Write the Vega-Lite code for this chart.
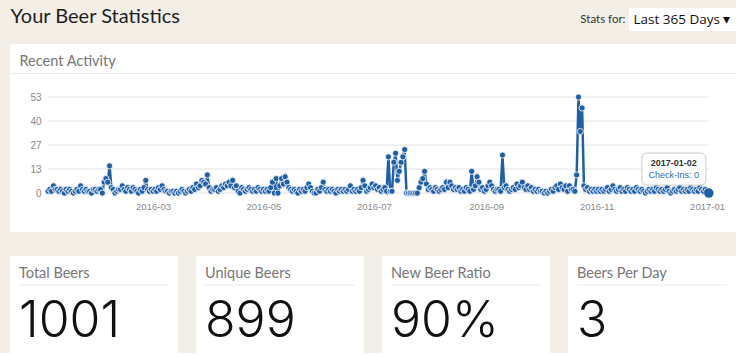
{
  "$schema": "https://vega.github.io/schema/vega-lite/v6.json",
  "background": "#f3efe6",
  "padding": {"left": 10, "top": 6, "right": 0, "bottom": 0},
  "config": {"view": {"stroke": null}, "font": "Lato"},
  "datasets": {
    "header": [{"prefix": "Stats for:", "label": "Last 365 Days  ▾"}],
    "cards": [
      {"stat": "Total Beers", "value": "1001"},
      {"stat": "Unique Beers", "value": "899"},
      {"stat": "New Beer Ratio", "value": "90%"},
      {"stat": "Beers Per Day", "value": "3"}
    ],
    "grid": [
      {"g": 0, "from": "2016-01-03", "to": "2017-01-02"},
      {"g": 13.25, "from": "2016-01-03", "to": "2017-01-02"},
      {"g": 26.5, "from": "2016-01-03", "to": "2017-01-02"},
      {"g": 39.75, "from": "2016-01-03", "to": "2017-01-02"},
      {"g": 53, "from": "2016-01-03", "to": "2017-01-02"}
    ],
    "hover": [{"d": "2017-01-02", "n": 0, "label": "Check-Ins: 0"}],
    "checkins": [
      {"d":"2016-01-03","n":1},{"d":"2016-01-04","n":2},{"d":"2016-01-05","n":1},{"d":"2016-01-06","n":4},{"d":"2016-01-07","n":2},{"d":"2016-01-08","n":2},{"d":"2016-01-09","n":1},{"d":"2016-01-10","n":2},{"d":"2016-01-11","n":1},{"d":"2016-01-12","n":0},{"d":"2016-01-13","n":2},{"d":"2016-01-14","n":1},{"d":"2016-01-15","n":2},{"d":"2016-01-16","n":1},{"d":"2016-01-17","n":0},{"d":"2016-01-18","n":1},{"d":"2016-01-19","n":2},{"d":"2016-01-20","n":1},{"d":"2016-01-21","n":4},{"d":"2016-01-22","n":2},{"d":"2016-01-23","n":1},{"d":"2016-01-24","n":2},{"d":"2016-01-25","n":1},{"d":"2016-01-26","n":1},{"d":"2016-01-27","n":0},{"d":"2016-01-28","n":2},{"d":"2016-01-29","n":2},{"d":"2016-01-30","n":1},{"d":"2016-01-31","n":2},
      {"d":"2016-02-01","n":2},{"d":"2016-02-02","n":0},{"d":"2016-02-03","n":6},{"d":"2016-02-04","n":8},{"d":"2016-02-05","n":6},{"d":"2016-02-06","n":15},{"d":"2016-02-07","n":3},{"d":"2016-02-08","n":2},{"d":"2016-02-09","n":0},{"d":"2016-02-10","n":1},{"d":"2016-02-11","n":2},{"d":"2016-02-12","n":2},{"d":"2016-02-13","n":4},{"d":"2016-02-14","n":2},{"d":"2016-02-15","n":1},{"d":"2016-02-16","n":3},{"d":"2016-02-17","n":2},{"d":"2016-02-18","n":1},{"d":"2016-02-19","n":3},{"d":"2016-02-20","n":2},{"d":"2016-02-21","n":1},{"d":"2016-02-22","n":0},{"d":"2016-02-23","n":2},{"d":"2016-02-24","n":1},{"d":"2016-02-25","n":3},{"d":"2016-02-26","n":7},{"d":"2016-02-27","n":2},{"d":"2016-02-28","n":1},{"d":"2016-02-29","n":2},
      {"d":"2016-03-01","n":1},{"d":"2016-03-02","n":2},{"d":"2016-03-03","n":1},{"d":"2016-03-04","n":3},{"d":"2016-03-05","n":2},{"d":"2016-03-06","n":4},{"d":"2016-03-07","n":2},{"d":"2016-03-08","n":1},{"d":"2016-03-09","n":1},{"d":"2016-03-10","n":0},{"d":"2016-03-11","n":1},{"d":"2016-03-12","n":1},{"d":"2016-03-13","n":0},{"d":"2016-03-14","n":1},{"d":"2016-03-15","n":0},{"d":"2016-03-16","n":1},{"d":"2016-03-17","n":2},{"d":"2016-03-18","n":1},{"d":"2016-03-19","n":0},{"d":"2016-03-20","n":1},{"d":"2016-03-21","n":2},{"d":"2016-03-22","n":1},{"d":"2016-03-23","n":3},{"d":"2016-03-24","n":2},{"d":"2016-03-25","n":5},{"d":"2016-03-26","n":3},{"d":"2016-03-27","n":4},{"d":"2016-03-28","n":7},{"d":"2016-03-29","n":6},{"d":"2016-03-30","n":5},{"d":"2016-03-31","n":10},
      {"d":"2016-04-01","n":3},{"d":"2016-04-02","n":1},{"d":"2016-04-03","n":2},{"d":"2016-04-04","n":2},{"d":"2016-04-05","n":3},{"d":"2016-04-06","n":1},{"d":"2016-04-07","n":2},{"d":"2016-04-08","n":4},{"d":"2016-04-09","n":3},{"d":"2016-04-10","n":5},{"d":"2016-04-11","n":4},{"d":"2016-04-12","n":6},{"d":"2016-04-13","n":4},{"d":"2016-04-14","n":7},{"d":"2016-04-15","n":3},{"d":"2016-04-16","n":4},{"d":"2016-04-17","n":1},{"d":"2016-04-18","n":0},{"d":"2016-04-19","n":3},{"d":"2016-04-20","n":2},{"d":"2016-04-21","n":1},{"d":"2016-04-22","n":2},{"d":"2016-04-23","n":3},{"d":"2016-04-24","n":2},{"d":"2016-04-25","n":1},{"d":"2016-04-26","n":2},{"d":"2016-04-27","n":1},{"d":"2016-04-28","n":3},{"d":"2016-04-29","n":2},{"d":"2016-04-30","n":1},
      {"d":"2016-05-01","n":2},{"d":"2016-05-02","n":1},{"d":"2016-05-03","n":2},{"d":"2016-05-04","n":1},{"d":"2016-05-05","n":3},{"d":"2016-05-06","n":6},{"d":"2016-05-07","n":0},{"d":"2016-05-08","n":8},{"d":"2016-05-09","n":0},{"d":"2016-05-10","n":4},{"d":"2016-05-11","n":8},{"d":"2016-05-12","n":5},{"d":"2016-05-13","n":9},{"d":"2016-05-14","n":6},{"d":"2016-05-15","n":3},{"d":"2016-05-16","n":2},{"d":"2016-05-17","n":1},{"d":"2016-05-18","n":2},{"d":"2016-05-19","n":1},{"d":"2016-05-20","n":0},{"d":"2016-05-21","n":2},{"d":"2016-05-22","n":1},{"d":"2016-05-23","n":2},{"d":"2016-05-24","n":1},{"d":"2016-05-25","n":3},{"d":"2016-05-26","n":5},{"d":"2016-05-27","n":3},{"d":"2016-05-28","n":1},{"d":"2016-05-29","n":0},{"d":"2016-05-30","n":0},{"d":"2016-05-31","n":2},
      {"d":"2016-06-01","n":1},{"d":"2016-06-02","n":3},{"d":"2016-06-03","n":6},{"d":"2016-06-04","n":2},{"d":"2016-06-05","n":1},{"d":"2016-06-06","n":2},{"d":"2016-06-07","n":1},{"d":"2016-06-08","n":2},{"d":"2016-06-09","n":1},{"d":"2016-06-10","n":0},{"d":"2016-06-11","n":2},{"d":"2016-06-12","n":1},{"d":"2016-06-13","n":2},{"d":"2016-06-14","n":1},{"d":"2016-06-15","n":2},{"d":"2016-06-16","n":1},{"d":"2016-06-17","n":2},{"d":"2016-06-18","n":4},{"d":"2016-06-19","n":1},{"d":"2016-06-20","n":2},{"d":"2016-06-21","n":1},{"d":"2016-06-22","n":2},{"d":"2016-06-23","n":1},{"d":"2016-06-24","n":3},{"d":"2016-06-25","n":7},{"d":"2016-06-26","n":4},{"d":"2016-06-27","n":1},{"d":"2016-06-28","n":2},{"d":"2016-06-29","n":3},{"d":"2016-06-30","n":5},
      {"d":"2016-07-01","n":3},{"d":"2016-07-02","n":4},{"d":"2016-07-03","n":2},{"d":"2016-07-04","n":3},{"d":"2016-07-05","n":1},{"d":"2016-07-06","n":2},{"d":"2016-07-07","n":3},{"d":"2016-07-08","n":1},{"d":"2016-07-09","n":20},{"d":"2016-07-10","n":1},{"d":"2016-07-11","n":1},{"d":"2016-07-12","n":17},{"d":"2016-07-13","n":22},{"d":"2016-07-14","n":7},{"d":"2016-07-15","n":12},{"d":"2016-07-16","n":17},{"d":"2016-07-17","n":20},{"d":"2016-07-18","n":24},{"d":"2016-07-19","n":0},{"d":"2016-07-20","n":0},{"d":"2016-07-21","n":0},{"d":"2016-07-22","n":0},{"d":"2016-07-23","n":0},{"d":"2016-07-24","n":0},{"d":"2016-07-25","n":0},{"d":"2016-07-26","n":3},{"d":"2016-07-27","n":6},{"d":"2016-07-28","n":8},{"d":"2016-07-29","n":12},{"d":"2016-07-30","n":5},{"d":"2016-07-31","n":2},
      {"d":"2016-08-01","n":3},{"d":"2016-08-02","n":2},{"d":"2016-08-03","n":1},{"d":"2016-08-04","n":3},{"d":"2016-08-05","n":2},{"d":"2016-08-06","n":1},{"d":"2016-08-07","n":2},{"d":"2016-08-08","n":3},{"d":"2016-08-09","n":2},{"d":"2016-08-10","n":6},{"d":"2016-08-11","n":3},{"d":"2016-08-12","n":6},{"d":"2016-08-13","n":4},{"d":"2016-08-14","n":2},{"d":"2016-08-15","n":3},{"d":"2016-08-16","n":2},{"d":"2016-08-17","n":3},{"d":"2016-08-18","n":1},{"d":"2016-08-19","n":2},{"d":"2016-08-20","n":1},{"d":"2016-08-21","n":3},{"d":"2016-08-22","n":2},{"d":"2016-08-23","n":1},{"d":"2016-08-24","n":12},{"d":"2016-08-25","n":2},{"d":"2016-08-26","n":4},{"d":"2016-08-27","n":9},{"d":"2016-08-28","n":6},{"d":"2016-08-29","n":2},{"d":"2016-08-30","n":3},{"d":"2016-08-31","n":1},
      {"d":"2016-09-01","n":2},{"d":"2016-09-02","n":4},{"d":"2016-09-03","n":6},{"d":"2016-09-04","n":4},{"d":"2016-09-05","n":2},{"d":"2016-09-06","n":1},{"d":"2016-09-07","n":2},{"d":"2016-09-08","n":2},{"d":"2016-09-09","n":1},{"d":"2016-09-10","n":21},{"d":"2016-09-11","n":3},{"d":"2016-09-12","n":4},{"d":"2016-09-13","n":2},{"d":"2016-09-14","n":1},{"d":"2016-09-15","n":2},{"d":"2016-09-16","n":3},{"d":"2016-09-17","n":2},{"d":"2016-09-18","n":5},{"d":"2016-09-19","n":3},{"d":"2016-09-20","n":4},{"d":"2016-09-21","n":6},{"d":"2016-09-22","n":3},{"d":"2016-09-23","n":2},{"d":"2016-09-24","n":4},{"d":"2016-09-25","n":2},{"d":"2016-09-26","n":3},{"d":"2016-09-27","n":1},{"d":"2016-09-28","n":2},{"d":"2016-09-29","n":1},{"d":"2016-09-30","n":2},
      {"d":"2016-10-01","n":1},{"d":"2016-10-02","n":1},{"d":"2016-10-03","n":0},{"d":"2016-10-04","n":1},{"d":"2016-10-05","n":0},{"d":"2016-10-06","n":1},{"d":"2016-10-07","n":2},{"d":"2016-10-08","n":1},{"d":"2016-10-09","n":3},{"d":"2016-10-10","n":4},{"d":"2016-10-11","n":2},{"d":"2016-10-12","n":5},{"d":"2016-10-13","n":3},{"d":"2016-10-14","n":2},{"d":"2016-10-15","n":4},{"d":"2016-10-16","n":1},{"d":"2016-10-17","n":4},{"d":"2016-10-18","n":2},{"d":"2016-10-19","n":2},{"d":"2016-10-20","n":1},{"d":"2016-10-21","n":10},{"d":"2016-10-22","n":53},{"d":"2016-10-23","n":34},{"d":"2016-10-24","n":47},{"d":"2016-10-25","n":4},{"d":"2016-10-26","n":2},{"d":"2016-10-27","n":3},{"d":"2016-10-28","n":1},{"d":"2016-10-29","n":2},{"d":"2016-10-30","n":1},{"d":"2016-10-31","n":2},
      {"d":"2016-11-01","n":1},{"d":"2016-11-02","n":2},{"d":"2016-11-03","n":1},{"d":"2016-11-04","n":2},{"d":"2016-11-05","n":1},{"d":"2016-11-06","n":2},{"d":"2016-11-07","n":3},{"d":"2016-11-08","n":1},{"d":"2016-11-09","n":2},{"d":"2016-11-10","n":4},{"d":"2016-11-11","n":2},{"d":"2016-11-12","n":1},{"d":"2016-11-13","n":2},{"d":"2016-11-14","n":3},{"d":"2016-11-15","n":1},{"d":"2016-11-16","n":2},{"d":"2016-11-17","n":1},{"d":"2016-11-18","n":3},{"d":"2016-11-19","n":2},{"d":"2016-11-20","n":1},{"d":"2016-11-21","n":2},{"d":"2016-11-22","n":1},{"d":"2016-11-23","n":3},{"d":"2016-11-24","n":2},{"d":"2016-11-25","n":1},{"d":"2016-11-26","n":2},{"d":"2016-11-27","n":1},{"d":"2016-11-28","n":0},{"d":"2016-11-29","n":1},{"d":"2016-11-30","n":2},
      {"d":"2016-12-01","n":1},{"d":"2016-12-02","n":2},{"d":"2016-12-03","n":1},{"d":"2016-12-04","n":3},{"d":"2016-12-05","n":2},{"d":"2016-12-06","n":1},{"d":"2016-12-07","n":2},{"d":"2016-12-08","n":1},{"d":"2016-12-09","n":2},{"d":"2016-12-10","n":3},{"d":"2016-12-11","n":1},{"d":"2016-12-12","n":0},{"d":"2016-12-13","n":1},{"d":"2016-12-14","n":2},{"d":"2016-12-15","n":1},{"d":"2016-12-16","n":2},{"d":"2016-12-17","n":3},{"d":"2016-12-18","n":1},{"d":"2016-12-19","n":2},{"d":"2016-12-20","n":1},{"d":"2016-12-21","n":2},{"d":"2016-12-22","n":1},{"d":"2016-12-23","n":3},{"d":"2016-12-24","n":2},{"d":"2016-12-25","n":1},{"d":"2016-12-26","n":2},{"d":"2016-12-27","n":1},{"d":"2016-12-28","n":3},{"d":"2016-12-29","n":2},{"d":"2016-12-30","n":1},{"d":"2016-12-31","n":2},
      {"d":"2017-01-01","n":1},{"d":"2017-01-02","n":0}
    ]
  },
  "spacing": 13,
  "vconcat": [
    {
      "spacing": 0,
      "hconcat": [
        {
          "width": 569, "height": 23,
          "data": {"name": "header"},
          "mark": {"type": "text", "opacity": 0},
          "encoding": {
            "text": {"field": "label"},
            "x": {"field": "prefix", "type": "nominal", "axis": {"orient": "top", "offset": -14, "labels": false, "ticks": false, "domain": false, "grid": false, "title": "Your Beer Statistics", "titleX": 0, "titleAlign": "left", "titleAnchor": "start", "titlePadding": 0, "titleBaseline": "alphabetic", "titleFont": "Lato", "titleFontSize": 20, "titleFontWeight": "normal", "titleColor": "#1e1e1e"}}
          }
        },
        {
          "width": 110, "height": 23,
          "data": {"name": "header"},
          "view": {"fill": "white", "stroke": null},
          "mark": {"type": "text", "font": "Open Sans", "fontSize": 13.5, "color": "#111", "baseline": "middle", "dx": -2},
          "encoding": {
            "text": {"field": "label"},
            "y": {"field": "prefix", "type": "nominal", "axis": {"title": null, "domain": false, "ticks": false, "labelPadding": 4, "labelFont": "Lato", "labelFontSize": 11.5, "labelColor": "#333", "labelAlign": "right", "labelBaseline": "middle"}}
          }
        }
      ]
    },
    {
      "spacing": 24,
      "vconcat": [
        {
          "width": 726, "height": 188,
          "view": {"fill": "white", "stroke": null},
          "resolve": {"axis": {"x": "independent", "y": "independent"}},
          "layer": [
            {
              "data": {"name": "grid"},
              "mark": {"type": "rule", "color": "#e3e3e3", "strokeWidth": 1},
              "encoding": {
                "x": {"field": "from", "type": "temporal",
                  "scale": {"type": "utc", "domain": [{"year": 2015, "month": 12, "date": 13, "utc": true}, {"year": 2017, "month": 1, "date": 17, "utc": true}]},
                  "axis": {"orient": "top", "offset": -29, "labels": false, "ticks": false, "grid": false, "domain": true, "domainColor": "#e8e8e8", "title": "Recent Activity", "titleAnchor": "start", "titleAlign": "left", "titleX": 9, "titlePadding": 8, "titleBaseline": "alphabetic", "titleFont": "Lato", "titleFontSize": 14.5, "titleFontWeight": "normal", "titleColor": "#777"}},
                "x2": {"field": "to"},
                "y": {"field": "g", "type": "quantitative",
                  "scale": {"domain": [-21.5, 82.3], "nice": false, "zero": false},
                  "axis": {"values": [0, 13.25, 26.5, 39.75, 53], "format": ".0f", "offset": -33, "domain": false, "ticks": false, "grid": false, "title": null, "labelFont": "Liberation Sans", "labelFontSize": 10, "labelColor": "#8a8a8a", "labelPadding": 2}}
              }
            },
            {
              "data": {"name": "checkins"},
              "mark": {"type": "line", "color": "#1f5fa8", "strokeWidth": 2.5},
              "encoding": {
                "x": {"field": "d", "type": "temporal",
                  "scale": {"type": "utc", "domain": [{"year": 2015, "month": 12, "date": 13, "utc": true}, {"year": 2017, "month": 1, "date": 17, "utc": true}]},
                  "axis": {"orient": "bottom", "offset": -39, "values": [{"year": 2016, "month": 3, "date": 1, "utc": true}, {"year": 2016, "month": 5, "date": 1, "utc": true}, {"year": 2016, "month": 7, "date": 1, "utc": true}, {"year": 2016, "month": 9, "date": 1, "utc": true}, {"year": 2016, "month": 11, "date": 1, "utc": true}, {"year": 2017, "month": 1, "date": 1, "utc": true}], "format": "%Y-%m", "ticks": false, "domain": false, "grid": false, "title": null, "labelFont": "Liberation Sans", "labelFontSize": 9.5, "labelColor": "#8a8a8a", "labelPadding": 8}},
                "y": {"field": "n", "type": "quantitative", "scale": {"domain": [-21.5, 82.3], "nice": false, "zero": false}, "axis": null}
              }
            },
            {
              "data": {"name": "checkins"},
              "mark": {"type": "point", "filled": true, "size": 38, "color": "#1f5fa8", "stroke": "white", "strokeWidth": 0.8, "opacity": 1},
              "encoding": {
                "x": {"field": "d", "type": "temporal", "axis": null},
                "y": {"field": "n", "type": "quantitative", "axis": null}
              }
            },
            {
              "data": {"name": "hover"},
              "mark": {"type": "point", "filled": true, "size": 90, "color": "#1f5fa8", "opacity": 1},
              "encoding": {
                "x": {"field": "d", "type": "temporal", "axis": null},
                "y": {"field": "n", "type": "quantitative", "axis": null}
              }
            },
            {
              "data": {"name": "hover"},
              "mark": {"type": "rect", "fill": "white", "fillOpacity": 0.88, "stroke": "#c9c9c9", "strokeWidth": 1, "cornerRadius": 5, "xOffset": -67, "x2Offset": -3, "yOffset": -40, "y2Offset": -8},
              "encoding": {
                "x": {"field": "d", "type": "temporal", "axis": null},
                "x2": {"field": "d"},
                "y": {"field": "n", "type": "quantitative", "axis": null},
                "y2": {"field": "n"}
              }
            },
            {
              "data": {"name": "hover"},
              "mark": {"type": "text", "font": "Liberation Sans", "fontSize": 9, "fontWeight": "bold", "color": "#333", "dx": -35, "dy": -27, "align": "center", "baseline": "alphabetic"},
              "encoding": {
                "x": {"field": "d", "type": "temporal", "axis": null},
                "y": {"field": "n", "type": "quantitative", "axis": null},
                "text": {"field": "d", "type": "temporal", "timeUnit": "utcyearmonthdate", "format": "%Y-%m-%d"}
              }
            },
            {
              "data": {"name": "hover"},
              "mark": {"type": "text", "font": "Liberation Sans", "fontSize": 9, "color": "#2b6cb0", "dx": -35, "dy": -15, "align": "center", "baseline": "alphabetic"},
              "encoding": {
                "x": {"field": "d", "type": "temporal", "axis": null},
                "y": {"field": "n", "type": "quantitative", "axis": null},
                "text": {"field": "label"}
              }
            }
          ]
        },
        {
          "width": 726, "height": 97,
          "data": {"name": "cards"},
          "layer": [
            {
              "mark": {"type": "bar", "color": "white"},
              "encoding": {
                "x": {"field": "stat", "type": "nominal", "sort": null,
                  "scale": {"paddingInner": 0.0968, "paddingOuter": 0},
                  "axis": null}
              }
            },
            {
              "mark": {"type": "rule", "color": "#ececec", "strokeWidth": 1, "xOffset": 9, "x2Offset": -9, "yOffset": -19.5},
              "encoding": {
                "x": {"field": "stat", "type": "nominal", "sort": null, "bandPosition": 0, "axis": null},
                "x2": {"field": "stat", "bandPosition": 1}
              }
            },
            {
              "mark": {"type": "text", "align": "left", "baseline": "alphabetic", "dx": 9, "dy": -27, "font": "Lato", "fontSize": 14.5, "color": "#777"},
              "encoding": {
                "x": {"field": "stat", "type": "nominal", "sort": null, "bandPosition": 0, "axis": null},
                "text": {"field": "stat"}
              }
            },
            {
              "mark": {"type": "text", "align": "left", "baseline": "alphabetic", "dx": 9, "dy": 32.5, "font": "Inter", "fontSize": 50, "fontWeight": 300, "color": "#111"},
              "encoding": {
                "x": {"field": "stat", "type": "nominal", "sort": null, "bandPosition": 0, "axis": null},
                "text": {"field": "value"}
              }
            }
          ]
        }
      ]
    }
  ]
}
